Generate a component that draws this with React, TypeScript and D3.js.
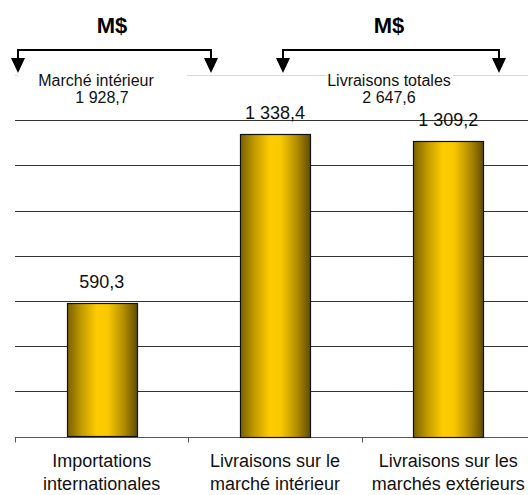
import React from "react";
import * as d3 from "d3";

const categories: string[][] = [
  ["Importations", "internationales"],
  ["Livraisons sur le", "marché intérieur"],
  ["Livraisons sur les", "marchés extérieurs"],
];
const values: number[] = [590.3, 1338.4, 1309.2];
const valueLabels: string[] = ["590,3", "1 338,4", "1 309,2"];
const yTicks: number[] = [200, 400, 600, 800, 1000, 1200, 1400, 1600];

const groupTitles: string[] = ["Marché intérieur", "Livraisons totales"];
const groupTotals: string[] = ["1 928,7", "2 647,6"];
const unitLabel = "M$";

const W = 528;
const H = 495;
const FONT = "'Liberation Sans', Arial, Helvetica, sans-serif";

export default function App() {
  const ids = categories.map((_, i) => String(i));
  const x = d3
    .scaleBand<string>()
    .domain(ids)
    .range([15, 535])
    .paddingInner(0.596)
    .paddingOuter(0.298);
  const step = x.step();
  const y = d3.scaleLinear().domain([0, 1600]).range([436.7, 75]);
  const r = (v: number) => Math.round(v) + 0.5;

  const brackets = [
    { x1: 18, x2: 211, cx: 112, tx: 96, tx2: 102, box: [18, 187] },
    { x1: 283, x2: 499, cx: 389, tx: 389, tx2: 389, box: [327, 453] },
  ];

  const arrow = (cx: number) =>
    `M${cx - 7},58 L${cx + 7},58 L${cx},73 Z`;

  return (
    <div style={{ position: "fixed", left: 0, top: 0 }}>
      <svg width={W} height={H} style={{ display: "block", background: "#fff" }}>
        <defs>
          <linearGradient id="barGrad" x1="0" x2="1" y1="0" y2="0">
            <stop offset="0" stopColor="#7a6100" />
            <stop offset="0.2" stopColor="#c29b00" />
            <stop offset="0.42" stopColor="#ffcc00" />
            <stop offset="0.58" stopColor="#f8c800" />
            <stop offset="0.8" stopColor="#b38f00" />
            <stop offset="1" stopColor="#604c00" />
          </linearGradient>
        </defs>

        {/* gridlines */}
        {yTicks.map((t) => (
          <line
            key={t}
            x1={15}
            x2={W}
            y1={r(y(t))}
            y2={r(y(t))}
            stroke={t === 1600 ? "#d9d9d9" : "#333"}
            strokeWidth={1}
          />
        ))}

        {/* axis */}
        <line x1={15} x2={W} y1={r(y(0))} y2={r(y(0))} stroke="#555" />
        {d3.range(categories.length + 1).map((i) => {
          const xx = r(15 + i * step);
          return (
            <line key={i} x1={xx} x2={xx} y1={r(y(0))} y2={r(y(0)) + 5} stroke="#555" />
          );
        })}

        {/* bars */}
        {values.map((v, i) => (
          <rect
            key={i}
            x={r(x(ids[i]) as number)}
            y={r(y(v))}
            width={Math.round(x.bandwidth())}
            height={Math.round(y(0) - y(v))}
            fill="url(#barGrad)"
            stroke="#111"
            strokeWidth={1.2}
          />
        ))}

        {/* value labels */}
        {values.map((v, i) => (
          <text
            key={i}
            x={(x(ids[i]) as number) + x.bandwidth() / 2}
            y={y(v) - 15}
            textAnchor="middle"
            fontFamily={FONT}
            fontSize={18}
            fill="#111"
          >
            {valueLabels[i]}
          </text>
        ))}

        {/* category labels */}
        {categories.map((lines, i) => (
          <text
            key={i}
            x={(x(ids[i]) as number) + x.bandwidth() / 2}
            textAnchor="middle"
            fontFamily={FONT}
            fontSize={18}
            fill="#111"
          >
            {lines.map((l, j) => (
              <tspan key={j} x={(x(ids[i]) as number) + x.bandwidth() / 2} y={467 + j * 23}>
                {l}
              </tspan>
            ))}
          </text>
        ))}

        {/* brackets & group labels */}
        {brackets.map((b, i) => (
          <g key={i}>
            <rect x={b.box[0]} y={66} width={b.box[1] - b.box[0]} height={40} fill="#fff" />
            <text
              x={b.tx}
              y={86}
              textAnchor="middle"
              fontFamily={FONT}
              fontSize={16}
              fill="#111"
            >
              {groupTitles[i]}
            </text>
            <text
              x={b.tx2}
              y={103}
              textAnchor="middle"
              fontFamily={FONT}
              fontSize={16}
              fill="#111"
            >
              {groupTotals[i]}
            </text>
            <text
              x={b.cx}
              y={33}
              textAnchor="middle"
              fontFamily={FONT}
              fontSize={22}
              fontWeight="bold"
              fill="#000"
            >
              {unitLabel}
            </text>
            <path
              d={`M${b.x1},59 L${b.x1},50 L${b.x2},50 L${b.x2},59`}
              fill="none"
              stroke="#000"
              strokeWidth={2}
            />
            <path d={arrow(b.x1)} fill="#000" />
            <path d={arrow(b.x2)} fill="#000" />
          </g>
        ))}
      </svg>
    </div>
  );
}
